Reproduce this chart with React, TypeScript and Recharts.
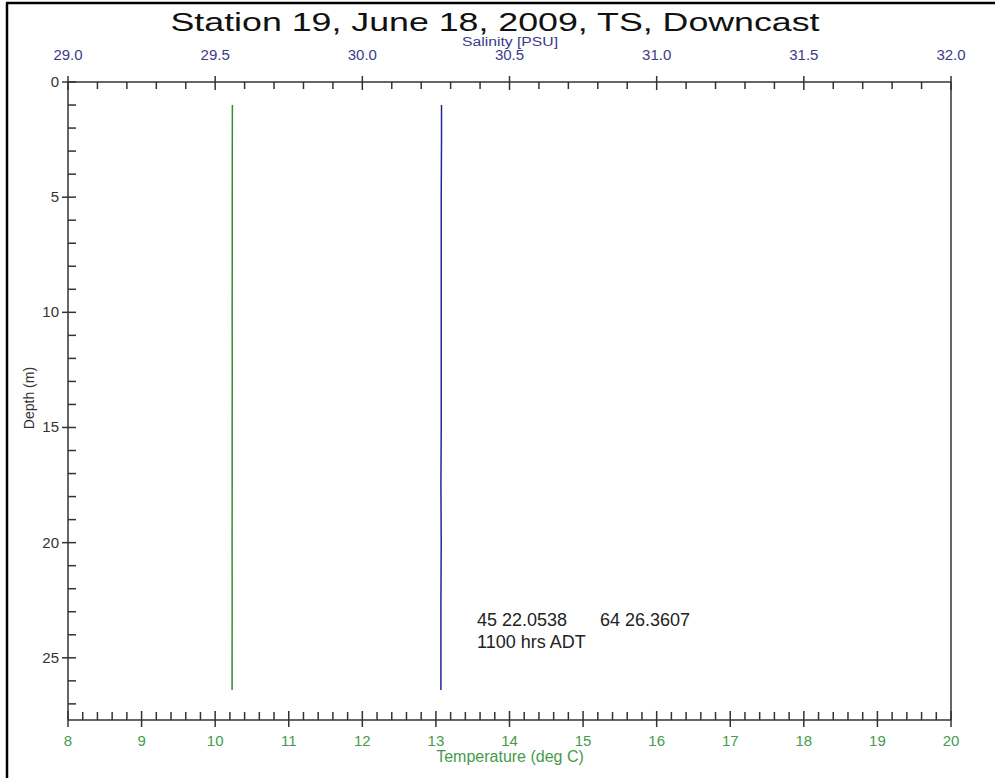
import React from 'react';
import { LineChart, Line, XAxis, YAxis, ReferenceLine } from 'recharts';

// CTD downcast, station 19
const depths = [1.0, 2.5, 5.0, 7.5, 10.0, 12.5, 15.0, 17.5, 20.0, 22.5, 25.0, 26.4];
const temperature = [10.234, 10.233, 10.232, 10.232, 10.231, 10.232, 10.231, 10.231, 10.23, 10.231, 10.23, 10.23];
const salinity = [30.269, 30.269, 30.268, 30.268, 30.268, 30.268, 30.268, 30.267, 30.268, 30.267, 30.267, 30.267];

const tempMajor = [8, 9, 10, 11, 12, 13, 14, 15, 16, 17, 18, 19, 20];
const salMajor = [29.0, 29.5, 30.0, 30.5, 31.0, 31.5, 32.0];
const depthMajor = [0, 5, 10, 15, 20, 25];

const withMinor = (lo: number, hi: number, step: number) => {
  const out: number[] = [];
  const n = Math.round((hi - lo) / step);
  for (let i = 0; i <= n; i++) out.push(Math.round((lo + i * step) * 1000) / 1000);
  return out;
};

const tempTicks = withMinor(8, 20, 0.2);
const salTicks = withMinor(29, 32, 0.1);
const depthTicks = withMinor(0, 27, 1);

const data = depths.map((d, i) => ({ depth: d, temp: temperature[i], sal: salinity[i] }));

const AXIS = '#333';
const GREEN_TXT = '#469a4a';
const NAVY_TXT = '#3b3b88';
const FONT = '"Liberation Sans", Arial, sans-serif';

const isMajor = (v: number, majors: number[]) => majors.some((m) => Math.abs(m - v) < 1e-6);

function BottomTick({ x, y, payload }: any) {
  const major = isMajor(payload.value, tempMajor);
  return (
    <g>
      <line x1={x} x2={x} y1={major ? y - 9 : y - 8} y2={major ? y + 7 : y} stroke={AXIS} strokeWidth={1.5} />
      {major && (
        <text x={x} y={y + 26} textAnchor="middle" fill={GREEN_TXT} fontSize={15} fontFamily={FONT}>
          {payload.value}
        </text>
      )}
    </g>
  );
}

function TopTick({ x, y, payload }: any) {
  const major = isMajor(payload.value, salMajor);
  return (
    <g>
      <line x1={x} x2={x} y1={major ? y - 6 : y} y2={major ? y + 8 : y + 7} stroke={AXIS} strokeWidth={1.5} />
      {major && (
        <text x={x} y={y - 22} textAnchor="middle" fill={NAVY_TXT} fontSize={15} fontFamily={FONT}>
          {payload.value.toFixed(1)}
        </text>
      )}
    </g>
  );
}

function LeftTick({ x, y, payload }: any) {
  const major = isMajor(payload.value, depthMajor);
  return (
    <g>
      <line x1={major ? x - 6 : x} x2={x + 8} y1={y} y2={y} stroke={AXIS} strokeWidth={1.5} />
      {major && (
        <text x={x - 9} y={y + 5} textAnchor="end" fill={AXIS} fontSize={15} fontFamily={FONT}>
          {payload.value}
        </text>
      )}
    </g>
  );
}

export default function App() {
  return (
    <div style={{ position: 'absolute', left: 0, top: 0, width: 995, height: 778, background: '#fff' }}>
      <LineChart
        width={995}
        height={778}
        data={data}
        layout="vertical"
        margin={{ top: 52, right: 44, bottom: 28, left: 8 }}
      >
        <XAxis
          xAxisId="temp"
          type="number"
          orientation="bottom"
          domain={[8, 20]}
          ticks={tempTicks}
          interval={0}
          height={30}
          tickSize={0}
          tickMargin={0}
          tickLine={false}
          axisLine={{ stroke: AXIS, strokeWidth: 1.5 }}
          tick={<BottomTick />}
        />
        <XAxis
          xAxisId="sal"
          type="number"
          orientation="top"
          domain={[29, 32]}
          ticks={salTicks}
          interval={0}
          height={30}
          tickSize={0}
          tickMargin={0}
          tickLine={false}
          axisLine={{ stroke: AXIS, strokeWidth: 1.5 }}
          tick={<TopTick />}
        />
        <YAxis
          type="number"
          dataKey="depth"
          domain={[0, 27.7]}
          allowDataOverflow
          ticks={depthTicks}
          interval={0}
          width={60}
          tickSize={0}
          tickMargin={0}
          tickLine={false}
          axisLine={{ stroke: AXIS, strokeWidth: 1.5 }}
          tick={<LeftTick />}
        />
        <ReferenceLine xAxisId="temp" x={20} stroke={AXIS} strokeWidth={1.5} />
        <Line
          xAxisId="temp"
          dataKey="temp"
          stroke="#2f8f35"
          strokeWidth={1.5}
          dot={false}
          isAnimationActive={false}
        />
        <Line
          xAxisId="sal"
          dataKey="sal"
          stroke="#25259a"
          strokeWidth={1.5}
          dot={false}
          isAnimationActive={false}
        />
        {/* frame edges of the original figure */}
        <line x1={7} x2={7} y1={3} y2={778} stroke="#000" strokeWidth={2.5} />
        <line x1={6} x2={995} y1={3} y2={3} stroke="#000" strokeWidth={2.5} />
        <text x={495} y={31} textAnchor="middle" fontSize={26} fontFamily={FONT} fill="#111"
          textLength={649} lengthAdjust="spacingAndGlyphs">
          Station 19, June 18, 2009, TS, Downcast
        </text>
        <text x={510} y={46} textAnchor="middle" fontSize={12} fontFamily={FONT} fill={NAVY_TXT}
          textLength={96} lengthAdjust="spacingAndGlyphs">
          Salinity [PSU]
        </text>
        <text x={510} y={762} textAnchor="middle" fontSize={16} fontFamily={FONT} fill={GREEN_TXT}>
          Temperature (deg C)
        </text>
        <text x={34} y={398} textAnchor="middle" fontSize={14} fontFamily={FONT} fill={AXIS}
          transform="rotate(-90 34 398)">
          Depth (m)
        </text>
        <text fontSize={18} fontFamily={FONT} fill="#222">
          <tspan x={477} y={626}>45 22.0538</tspan>
          <tspan x={600} y={626}>64 26.3607</tspan>
          <tspan x={477} y={648}>1100 hrs ADT</tspan>
        </text>
      </LineChart>
    </div>
  );
}
